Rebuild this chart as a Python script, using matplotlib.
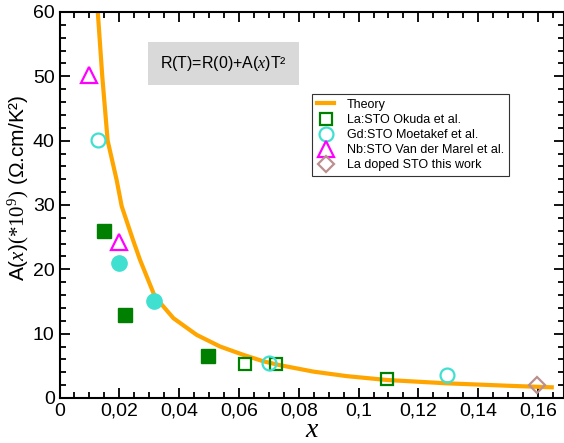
import matplotlib
matplotlib.use("Agg")
import matplotlib.pyplot as plt
from matplotlib.ticker import MultipleLocator, FuncFormatter

# theory curve
theory_x = [0.0128, 0.0143, 0.0161, 0.0191, 0.0208, 0.0247, 0.0269, 0.0319,
            0.0381, 0.0459, 0.0537, 0.0615, 0.0682, 0.0737, 0.0849, 0.0960,
            0.1094, 0.1295, 0.1518, 0.1646]
theory_A = [60.0, 50.0, 40.0, 33.9, 29.8, 24.4, 21.5, 15.75,
            12.4, 9.8, 8.0, 6.7, 5.7, 5.1, 4.1, 3.4,
            2.8, 2.28, 1.87, 1.66]

# La:STO Okuda et al.
okuda_x = [0.062, 0.0724, 0.1096]
okuda_A = [5.3, 5.3, 3.0]
okuda_fill_x = [0.015, 0.0219, 0.0498]
okuda_fill_A = [26.0, 12.9, 6.6]

# Gd:STO Moetakef et al.
moet_x = [0.013, 0.070, 0.1297]
moet_A = [40.1, 5.5, 3.5]
moet_fill_x = [0.0199, 0.0317]
moet_fill_A = [21.0, 15.0]

# Nb:STO Van der Marel et al.
marel_x = [0.0099, 0.0199]
marel_A = [50.2, 24.2]

# La doped STO this work
work_x = [0.1596]
work_A = [2.0]

plt.rcParams['font.family'] = ['Liberation Sans', 'DejaVu Sans']
plt.rcParams['mathtext.fontset'] = 'custom'
plt.rcParams['mathtext.rm'] = 'Liberation Serif'
plt.rcParams['mathtext.it'] = 'Liberation Serif:italic'

fig = plt.figure(figsize=(5.64, 4.43), dpi=100)
ax = fig.add_axes([0.1055, 0.1016, 0.8945, 0.8714])

ax.plot(theory_x, theory_A, color='#FFA500', lw=3, label='Theory', zorder=2)
ax.plot(okuda_x, okuda_A, 's', ms=9, mfc='none', mec='#008000', mew=1.6,
        label='La:STO Okuda et al.', zorder=3)
ax.plot(moet_x, moet_A, 'o', ms=10, mfc='none', mec='#40E0D0', mew=1.6,
        label='Gd:STO Moetakef et al.', zorder=3)
ax.plot(marel_x, marel_A, '^', ms=11, mfc='none', mec='#FF00FF', mew=1.6,
        label='Nb:STO Van der Marel et al.', zorder=3)
ax.plot(work_x, work_A, 'D', ms=8, mfc='none', mec='#BC8F8F', mew=1.6,
        label='La doped STO this work', zorder=3)
ax.plot(okuda_fill_x, okuda_fill_A, 's', ms=10, color='#008000', zorder=3)
ax.plot(moet_fill_x, moet_fill_A, 'o', ms=11, color='#40E0D0', zorder=3)

ax.set_xlim(0, 0.1687)
ax.set_ylim(0, 60)

ax.xaxis.set_major_locator(MultipleLocator(0.02))
ax.xaxis.set_minor_locator(MultipleLocator(0.005))
ax.yaxis.set_major_locator(MultipleLocator(10))
ax.yaxis.set_minor_locator(MultipleLocator(2))
ax.xaxis.set_major_formatter(FuncFormatter(lambda v, p: ('%g' % round(v, 3)).replace('.', ',')))

ax.tick_params(which='both', direction='in', top=True, right=True, labelsize=14, width=1.3)
ax.tick_params(which='major', length=7)
ax.tick_params(which='minor', length=4)
for s in ax.spines.values():
    s.set_linewidth(1.5)

ax.set_xlabel(r'$x$', fontsize=20, labelpad=-2)
ax.set_ylabel(r'A($x$)$(*10^9)$ (Ω.cm/K²)', fontsize=15)
ax.yaxis.set_label_coords(-0.056, 0.545)

ax.text(0.325, 0.867, r'R(T)=R(0)+A($x$)T²', transform=ax.transAxes, fontsize=11.5,
        ha='center', va='center',
        bbox=dict(boxstyle='square,pad=0.75', fc='#D9D9D9', ec='none'))

leg = ax.legend(loc='upper left', bbox_to_anchor=(0.50, 0.788), borderaxespad=0,
                fontsize=9, handlelength=1.4, handletextpad=1.0, labelspacing=0.25,
                fancybox=False, edgecolor='#333333', framealpha=1)
leg.get_frame().set_linewidth(0.8)

fig.savefig('out.png', dpi=100)
